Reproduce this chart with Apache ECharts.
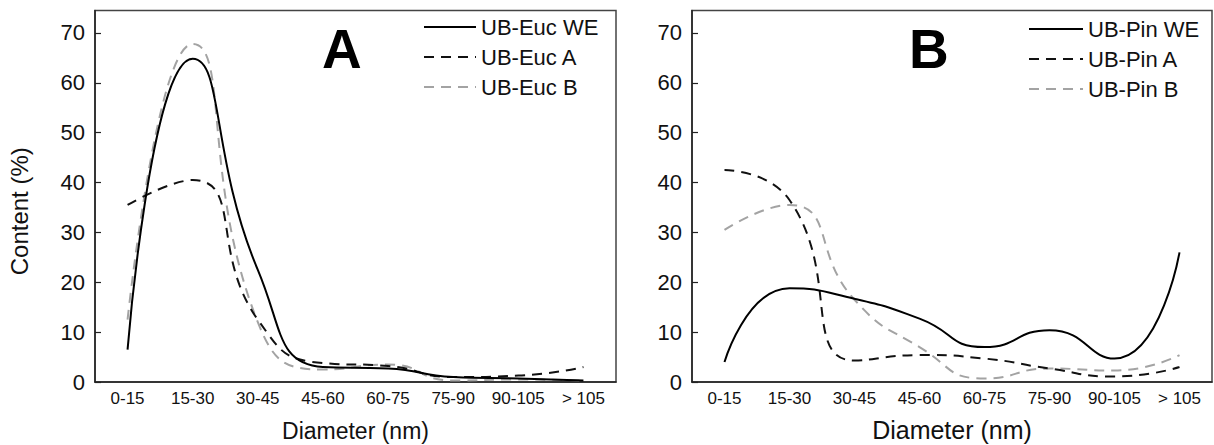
<!DOCTYPE html>
<html>
<head>
<meta charset="utf-8">
<style>
  html, body { margin: 0; padding: 0; background: #fff; }
  #chart { width: 1214px; height: 445px; }
</style>
<script src="https://cdn.jsdelivr.net/npm/echarts@6/dist/echarts.min.js"></script>
</head>
<body>
<div id="chart"></div>
<script>
// ---- data ----
var categories = ['0-15', '15-30', '30-45', '45-60', '60-75', '75-90', '90-105', '> 105'];
var yTicks = [0, 10, 20, 30, 40, 50, 60, 70];

var eucNames = ['UB-Euc WE', 'UB-Euc A', 'UB-Euc B'];
var eucWE = [6.5, 64.8, 22.5, 3.0, 2.7, 1.0, 0.7, 0.3];
var eucA  = [35.5, 40.5, 12.5, 3.8, 3.2, 1.0, 1.3, 3.0];
var eucB  = [12.5, 67.8, 12.0, 2.5, 3.5, 0.3, 0.5, 0.3];

var pinNames = ['UB-Pin WE', 'UB-Pin A', 'UB-Pin B'];
var pinWE = [4.0, 18.8, 16.7, 12.7, 7.0, 10.4, 4.7, 26.0];
var pinA  = [42.5, 36.5, 4.3, 5.4, 4.7, 2.7, 1.1, 3.0];
var pinB  = [30.5, 35.5, 16.5, 7.0, 0.7, 2.7, 2.3, 5.4];

var panelLetters = ['A', 'B'];
var xName = 'Diameter (nm)';
var yName = 'Content (%)';

// ---- chart ----
var FONT = '"Liberation Sans", Arial, sans-serif';
var chart = echarts.init(document.getElementById('chart'), null, { renderer: 'svg' });

function xAxis(gridIndex, nameSize, gap) {
  return {
    type: 'category', gridIndex: gridIndex, data: categories, boundaryGap: true,
    name: xName, nameLocation: 'middle', nameGap: gap,
    nameTextStyle: { fontFamily: FONT, fontSize: nameSize, color: '#111' },
    axisLine: { lineStyle: { color: '#222', width: 1.5 } },
    axisTick: { inside: true, length: 7, alignWithLabel: true, lineStyle: { color: '#222', width: 1.2 } },
    axisLabel: { interval: 0, margin: 8, fontFamily: FONT, fontSize: 17, color: '#111' },
    splitLine: { show: false }
  };
}
function yAxis(gridIndex, withName) {
  var ax = {
    type: 'value', gridIndex: gridIndex, min: 0, max: 74.5, interval: 10,
    axisLine: { show: true, lineStyle: { color: '#222', width: 1.5 } },
    axisTick: { show: true, inside: true, length: 6, lineStyle: { color: '#222', width: 1.2 } },
    axisLabel: { margin: 10, fontFamily: FONT, fontSize: 22, color: '#111', showMaxLabel: false,
      formatter: function (v) { return yTicks.indexOf(v) >= 0 ? String(v) : ''; } },
    splitLine: { show: false }
  };
  if (withName) {
    ax.name = yName;
    ax.nameLocation = 'middle';
    ax.nameGap = 64;
    ax.nameTextStyle = { fontFamily: FONT, fontSize: 24, color: '#111', padding: [0, 30, 0, 0] };
  }
  return ax;
}
var styles = [
  { color: '#000', type: 'solid' },
  { color: '#111', type: [10, 7] },
  { color: '#a3a3a3', type: [10, 7] }
];
function series(name, data, idx, s) {
  return {
    name: name, type: 'line', xAxisIndex: idx, yAxisIndex: idx, data: data,
    smooth: 0.55, symbol: 'none', silent: true,
    lineStyle: { color: styles[s].color, type: styles[s].type, width: 2 },
    itemStyle: { color: styles[s].color },
    z: 10 - s
  };
}
function legend(names, left, top, w) {
  return {
    data: names, orient: 'vertical', left: left, top: top, padding: 0,
    itemWidth: w, itemHeight: 14, itemGap: 8, selectedMode: false,
    itemStyle: { opacity: 0, color: 'rgba(0,0,0,0)', borderColor: 'rgba(0,0,0,0)', borderWidth: 0 },
    textStyle: { fontFamily: FONT, fontSize: 22, color: '#111', lineHeight: 22 }
  };
}

chart.setOption({
  animation: false,
  backgroundColor: '#fff',
  title: [
    { text: panelLetters[0], left: 322, top: 21, padding: 0,
      textStyle: { fontFamily: FONT, fontSize: 55, fontWeight: 'bold', color: '#000' } },
    { text: panelLetters[1], left: 909, top: 21, padding: 0,
      textStyle: { fontFamily: FONT, fontSize: 55, fontWeight: 'bold', color: '#000' } }
  ],
  legend: [legend(eucNames, 423, 16, 52), legend(pinNames, 1028, 18, 54)],
  grid: [
    { left: 95, top: 10.5, width: 521, height: 371.5, show: true, borderColor: '#444', borderWidth: 1.5, containLabel: false, outerBoundsMode: 'none' },
    { left: 692, top: 10.5, width: 520, height: 371.5, show: true, borderColor: '#444', borderWidth: 1.5, containLabel: false, outerBoundsMode: 'none' }
  ],
  xAxis: [xAxis(0, 23, 37), xAxis(1, 25, 35)],
  yAxis: [yAxis(0, true), yAxis(1, false)],
  series: [
    series(eucNames[0], eucWE, 0, 0),
    series(eucNames[1], eucA, 0, 1),
    series(eucNames[2], eucB, 0, 2),
    series(pinNames[0], pinWE, 1, 0),
    series(pinNames[1], pinA, 1, 1),
    series(pinNames[2], pinB, 1, 2)
  ]
});
</script>
</body>
</html>
